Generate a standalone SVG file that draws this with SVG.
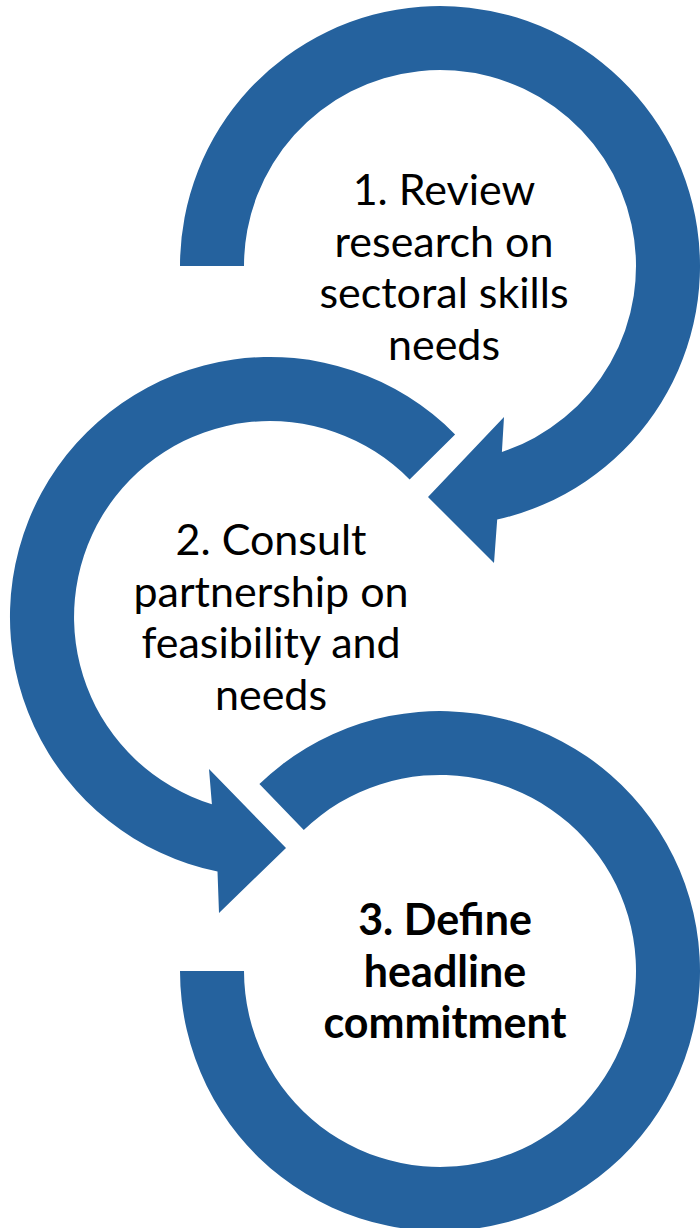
<svg xmlns="http://www.w3.org/2000/svg" width="700" height="1228" viewBox="0 0 700 1228">
  <style>
    .arc { fill: #25629E; stroke: none; }
    .lbl { font-family: Lato, "Liberation Sans", sans-serif; font-size: 43px; fill: #000000; text-anchor: middle; }
    .bold { font-weight: bold; }
  </style>
  <rect width="700" height="1228" fill="#FFFFFF"/>
  <g id="node1">
    <path class="arc" d="M180,266 A260,260 0 1,1 497.2,519.6 L494,563 L428,497 L504,417 L501.9,452 A196,196 0 1,0 244,266 Z"/>
    <text class="lbl" x="444" y="205">1. Review</text>
    <text class="lbl" x="444" y="257">research on</text>
    <text class="lbl" x="444" y="308">sectoral skills</text>
    <text class="lbl" x="444" y="360">needs</text>
  </g>
  <g id="node2">
    <path class="arc" d="M455.1,434.4 A260,260 0 1,0 217.5,871.6 L219,913 L286,848 L209,769 L211.9,804.2 A196,196 0 1,1 409.6,479.4 Z"/>
    <text class="lbl" x="271" y="555">2. Consult</text>
    <text class="lbl" x="271" y="607">partnership on</text>
    <text class="lbl" x="271" y="658">feasibility and</text>
    <text class="lbl" x="271" y="710">needs</text>
  </g>
  <g id="node3">
    <path class="arc" d="M259.4,784 A260,260 0 1,1 180,971 L244,971 A196,196 0 1,0 303.8,830 Z"/>
    <text class="lbl bold" x="445" y="935">3. Define</text>
    <text class="lbl bold" x="445" y="987">headline</text>
    <text class="lbl bold" x="445" y="1038">commitment</text>
  </g>
</svg>
